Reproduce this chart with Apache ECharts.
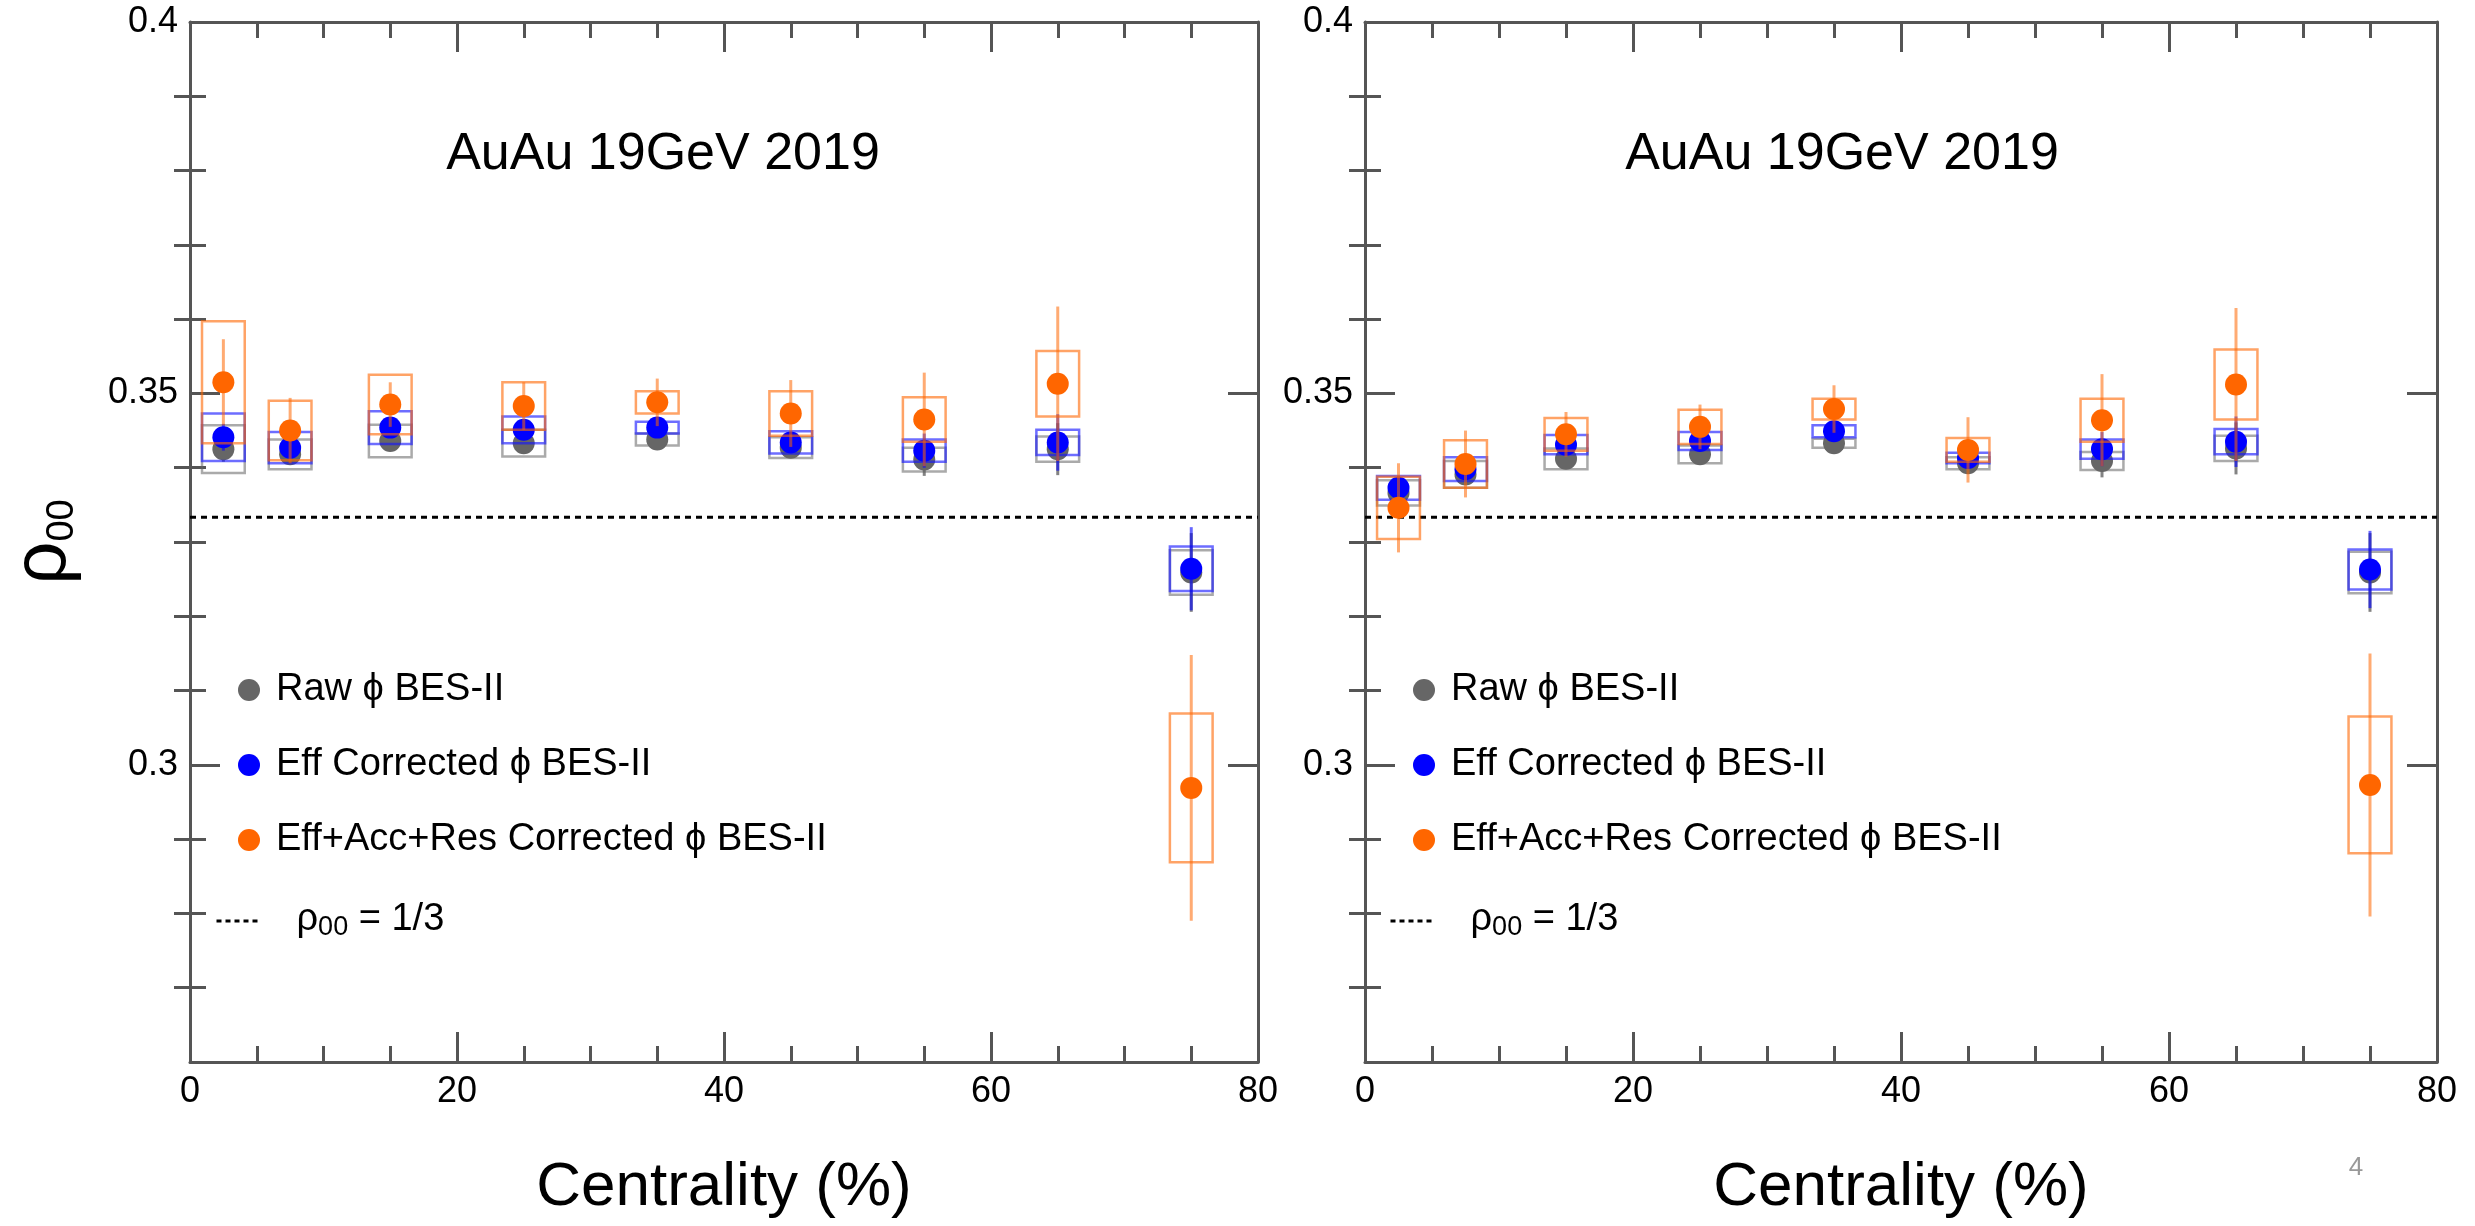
<!DOCTYPE html>
<html>
<head>
<meta charset="utf-8">
<title>rho00 vs centrality, AuAu 19GeV 2019</title>
<script src="https://cdn.jsdelivr.net/npm/echarts@6/dist/echarts.min.js"></script>
<style>
  html, body { margin: 0; padding: 0; background: #ffffff; }
  #chart { width: 2475px; height: 1226px; }
</style>
</head>
<body>
<div id="chart"></div>
<script>
// ---------------- data ----------------
const centrality = [2.5, 7.5, 15, 25, 35, 45, 55, 65, 75];

// left panel
const rawL      = [0.3425, 0.3418, 0.3436, 0.3433, 0.3438, 0.3427, 0.3411, 0.3425, 0.3259];
const rawErrL   = [0.0017, 0.0013, 0.0010, 0.0010, 0.0009, 0.0013, 0.0022, 0.0035, 0.0053];
const rawSysL   = [0.0032, 0.0020, 0.0022, 0.0018, 0.0008, 0.0014, 0.0016, 0.0017, 0.0030];
const effL      = [0.3441, 0.3427, 0.3454, 0.3451, 0.3454, 0.3434, 0.3423, 0.3434, 0.3264];
const effErrL   = [0.0018, 0.0014, 0.0010, 0.0010, 0.0010, 0.0014, 0.0023, 0.0038, 0.0056];
const effSysL   = [0.0032, 0.0021, 0.0022, 0.0018, 0.0008, 0.0015, 0.0015, 0.0017, 0.0030];
const fullL     = [0.3515, 0.3450, 0.3485, 0.3483, 0.3488, 0.3473, 0.3465, 0.3513, 0.2969];
const fullErrL  = [0.0058, 0.0044, 0.0030, 0.0032, 0.0032, 0.0045, 0.0063, 0.0104, 0.0179];
const fullSysL  = [0.0082, 0.0040, 0.0040, 0.0032, 0.0015, 0.0030, 0.0030, 0.0044, 0.0100];

// right panel
const rawR      = [0.3366, 0.3391, 0.3412, 0.3418, 0.3433, 0.3406, 0.3409, 0.3426, 0.3259];
const rawErrR   = [0.0015, 0.0013, 0.0010, 0.0010, 0.0009, 0.0012, 0.0022, 0.0035, 0.0053];
const rawSysR   = [0.0017, 0.0018, 0.0014, 0.0012, 0.0006, 0.0008, 0.0012, 0.0017, 0.0028];
const effR      = [0.3373, 0.3398, 0.3431, 0.3436, 0.3449, 0.3413, 0.3425, 0.3435, 0.3263];
const effErrR   = [0.0016, 0.0014, 0.0010, 0.0010, 0.0010, 0.0013, 0.0023, 0.0034, 0.0052];
const effSysR   = [0.0016, 0.0016, 0.0013, 0.0012, 0.0008, 0.0007, 0.0013, 0.0017, 0.0027];
const fullR     = [0.3346, 0.3405, 0.3445, 0.3455, 0.3479, 0.3424, 0.3464, 0.3512, 0.2973];
const fullErrR  = [0.0060, 0.0045, 0.0030, 0.0030, 0.0032, 0.0044, 0.0062, 0.0103, 0.0177];
const fullSysR  = [0.0042, 0.0032, 0.0022, 0.0023, 0.0014, 0.0016, 0.0029, 0.0047, 0.0092];

const RHO_REF = 1 / 3;

const seriesNames = ['Raw \u03D5 BES-II', 'Eff Corrected \u03D5 BES-II', 'Eff+Acc+Res Corrected \u03D5 BES-II'];
const refName = '\u03C100 = 1/3';
const panelTitle = 'AuAu 19GeV 2019';
const xTitle = 'Centrality (%)';

const yMajorTicks = [0.3, 0.35, 0.4];
const yMinorTicks = [0.27, 0.28, 0.29, 0.31, 0.32, 0.33, 0.34, 0.36, 0.37, 0.38, 0.39];

// ---------------- style ----------------
const FONT = '"Liberation Sans", Arial, Helvetica, "DejaVu Sans", sans-serif';
const AXIS_COLOR = '#555555';
const BOX_HALF = 1.6;   // half width of systematic boxes, in centrality units

const styles = [
  { marker: '#666666', box: 'rgba(100,100,100,0.55)', bar: 'rgba(90,90,90,0.75)' },
  { marker: '#0000ff', box: 'rgba(20,20,255,0.62)',   bar: 'rgba(0,0,255,0.6)' },
  { marker: '#ff6600', box: 'rgba(255,102,0,0.6)',    bar: 'rgba(255,102,0,0.55)' }
];

const grids = [
  { left: 190,  top: 22, width: 1068, height: 1040 },
  { left: 1365, top: 22, width: 1072, height: 1040 }
];

// ---------------- axes ----------------
const tickLine = { color: AXIS_COLOR, width: 3 };

function makeXAxes(gi) {
  const base = {
    type: 'value', gridIndex: gi, min: 0, max: 80, interval: 20,
    axisLine: { onZero: false, lineStyle: tickLine },
    axisTick: { inside: true, length: 30, lineStyle: tickLine },
    minorTick: { show: true, splitNumber: 4, length: 16, lineStyle: tickLine },
    splitLine: { show: false }, minorSplitLine: { show: false }
  };
  return [
    Object.assign({}, base, {
      position: 'bottom',
      axisLabel: { fontSize: 36, color: '#000', fontFamily: FONT, margin: 12 },
      name: xTitle, nameLocation: 'middle', nameGap: 95,
      nameTextStyle: { fontSize: 62, color: '#000', fontFamily: FONT }
    }),
    Object.assign({}, base, { position: 'top', axisLabel: { show: false } })
  ];
}

function makeYAxes(gi, withName) {
  const common = { type: 'value', gridIndex: gi, min: 0.26, max: 0.4, splitLine: { show: false } };
  const main = Object.assign({}, common, {
    position: 'left',
    axisLine: { onZero: false, lineStyle: tickLine },
    axisTick: { inside: true, length: 30, customValues: yMajorTicks, lineStyle: tickLine },
    axisLabel: { customValues: yMajorTicks, fontSize: 36, color: '#000', fontFamily: FONT, margin: 12 }
  });
  if (withName) {
    Object.assign(main, {
      name: '{r|\u03C1}{s|00}', nameLocation: 'middle', nameGap: 108, nameRotate: 90,
      nameTextStyle: {
        color: '#000', fontFamily: FONT,
        rich: {
          r: { fontSize: 76, lineHeight: 76, verticalAlign: 'top', fontFamily: FONT, color: '#000' },
          s: { fontSize: 38, lineHeight: 38, verticalAlign: 'bottom', padding: [6, 0, 0, 0], fontFamily: FONT, color: '#000' }
        }
      }
    });
  }
  const minorLeft = Object.assign({}, common, {
    position: 'left', axisLine: { show: false },
    axisTick: { inside: true, length: 16, customValues: yMinorTicks, lineStyle: tickLine },
    axisLabel: { show: false }
  });
  const mainRight = Object.assign({}, common, {
    position: 'right', axisLine: { onZero: false, lineStyle: tickLine },
    axisTick: { inside: true, length: 30, customValues: yMajorTicks, lineStyle: tickLine },
    axisLabel: { show: false }
  });
  const minorRight = Object.assign({}, common, {
    position: 'right', axisLine: { show: false },
    axisTick: { inside: true, length: 16, customValues: yMinorTicks, lineStyle: tickLine },
    axisLabel: { show: false }
  });
  return [main, minorLeft, mainRight, minorRight];
}

// ---------------- series ----------------
function errorBoxes(values, errs, syss, st, xi, yi, z) {
  return {
    type: 'custom', xAxisIndex: xi, yAxisIndex: yi, z: z, silent: true,
    encode: { x: 0, y: 1 },
    data: centrality.map((c, i) => [c, values[i], errs[i], syss[i]]),
    renderItem: function (params, api) {
      const x = api.value(0), y = api.value(1), e = api.value(2), s = api.value(3);
      const tl = api.coord([x - BOX_HALF, y + s]);
      const br = api.coord([x + BOX_HALF, y - s]);
      const top = api.coord([x, y + e]);
      const bot = api.coord([x, y - e]);
      return {
        type: 'group',
        children: [
          { type: 'rect',
            shape: { x: tl[0], y: tl[1], width: br[0] - tl[0], height: br[1] - tl[1] },
            style: { fill: 'none', stroke: st.box, lineWidth: 2.5 } },
          { type: 'line',
            shape: { x1: top[0], y1: top[1], x2: bot[0], y2: bot[1] },
            style: { stroke: st.bar, lineWidth: 3 } }
        ]
      };
    }
  };
}

function markers(name, values, st, xi, yi, z) {
  return {
    type: 'scatter', name: name, xAxisIndex: xi, yAxisIndex: yi, z: z,
    data: centrality.map((c, i) => [c, values[i]]),
    symbol: 'circle', symbolSize: 22,
    itemStyle: { color: st.marker, opacity: 1 }
  };
}

function refLine(xi, yi) {
  return {
    type: 'line', name: refName, xAxisIndex: xi, yAxisIndex: yi, z: 1, silent: true,
    data: [[0, RHO_REF], [80, RHO_REF]], symbol: 'none', showSymbol: false,
    lineStyle: { color: '#000', width: 3, type: [6, 5] },
    itemStyle: { color: '#000' }
  };
}

const panels = [
  { xi: 0, yi: 0, sets: [[rawL, rawErrL, rawSysL], [effL, effErrL, effSysL], [fullL, fullErrL, fullSysL]] },
  { xi: 2, yi: 4, sets: [[rawR, rawErrR, rawSysR], [effR, effErrR, effSysR], [fullR, fullErrR, fullSysR]] }
];

const series = [];
panels.forEach(p => {
  series.push(refLine(p.xi, p.yi));
  p.sets.forEach((set, k) => {
    series.push(errorBoxes(set[0], set[1], set[2], styles[k], p.xi, p.yi, 2 + 2 * k));
    series.push(markers(seriesNames[k], set[0], styles[k], p.xi, p.yi, 3 + 2 * k));
  });
});

// ---------------- legends ----------------
const legendText = { fontSize: 38, lineHeight: 40, color: '#000', fontFamily: FONT };
const refRich = {
  r: { fontSize: 38, lineHeight: 40, verticalAlign: 'top', fontFamily: FONT, color: '#000' },
  s: { fontSize: 27, lineHeight: 27, verticalAlign: 'bottom', padding: [22, 0, 0, 0], fontFamily: FONT, color: '#000' }
};

function markerLegend(left) {
  return {
    data: seriesNames, orient: 'vertical', left: left, top: 670, padding: 0,
    itemWidth: 44, itemHeight: 22, icon: 'circle', itemGap: 35,
    selectedMode: false, textStyle: legendText
  };
}
function refLegend(left) {
  return {
    data: [refName], orient: 'vertical', left: left, top: 892, padding: 0,
    itemWidth: 41, itemHeight: 22, selectedMode: false,
    itemStyle: { opacity: 0, borderWidth: 0 },
    lineStyle: { color: '#000', width: 3, type: [5, 4] },
    formatter: () => '{r|\u03C1}{s|00}{r| = 1/3}',
    textStyle: Object.assign({}, legendText, { padding: [0, 0, 0, 34], rich: refRich })
  };
}

// ---------------- texts ----------------
function label(text, x, y, size, color) {
  return {
    type: 'text', x: x, y: y, silent: true,
    style: {
      text: text, fill: color, font: size + 'px ' + FONT,
      align: 'center', verticalAlign: 'middle', textAlign: 'center', textVerticalAlign: 'middle'
    }
  };
}

const option = {
  animation: false,
  backgroundColor: '#ffffff',
  grid: grids,
  xAxis: makeXAxes(0).concat(makeXAxes(1)),
  yAxis: makeYAxes(0, true).concat(makeYAxes(1, false)),
  legend: [markerLegend(238), refLegend(215), markerLegend(1413), refLegend(1389)],
  graphic: [
    label(panelTitle, 663, 155, 52, '#000'),
    label(panelTitle, 1842, 155, 52, '#000'),
    label('4', 2356, 1168, 26, '#999999')
  ],
  series: series
};

const chart = echarts.init(document.getElementById('chart'), null, { renderer: 'canvas' });
chart.setOption(option);
</script>
</body>
</html>
